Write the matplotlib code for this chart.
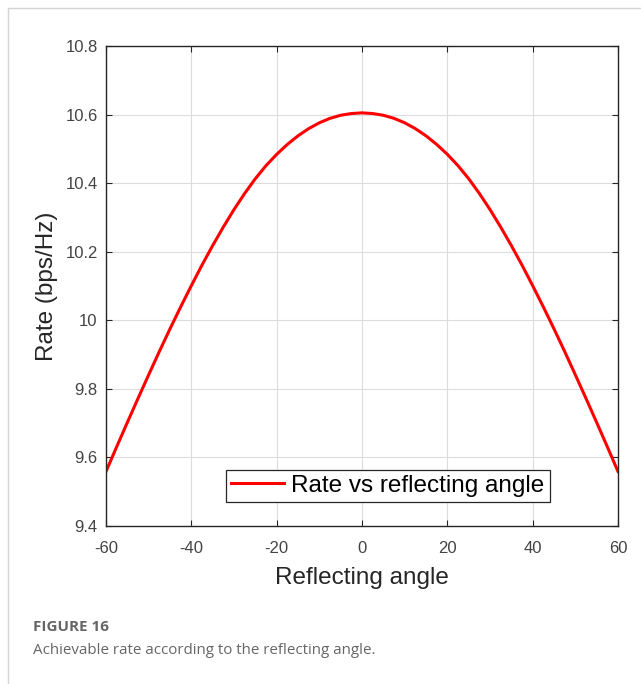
import matplotlib
matplotlib.use("Agg")
import matplotlib.pyplot as plt
from matplotlib.lines import Line2D

# reflecting angle (deg) and achievable rate (bps/Hz), read every 2.5 deg
angle = [-60, -57.5, -55, -52.5, -50, -47.5, -45, -42.5, -40, -37.5, -35,
         -32.5, -30, -27.5, -25, -22.5, -20, -17.5, -15, -12.5, -10, -7.5,
         -5, -2.5, 0, 2.5, 5, 7.5, 10, 12.5, 15, 17.5, 20, 22.5, 25, 27.5,
         30, 32.5, 35, 37.5, 40, 42.5, 45, 47.5, 50, 52.5, 55, 57.5, 60]
rate = [9.559, 9.631, 9.702, 9.772, 9.841, 9.909, 9.975, 10.039, 10.101,
        10.161, 10.218, 10.272, 10.323, 10.370, 10.413, 10.451, 10.484,
        10.513, 10.538, 10.559, 10.576, 10.589, 10.598, 10.603, 10.605,
        10.603, 10.598, 10.589, 10.576, 10.559, 10.538, 10.513, 10.484,
        10.451, 10.413, 10.370, 10.323, 10.272, 10.218, 10.161, 10.101,
        10.039, 9.975, 9.909, 9.841, 9.772, 9.702, 9.631, 9.559]

xticks = [-60, -40, -20, 0, 20, 40, 60]
yticks = [9.4, 9.6, 9.8, 10, 10.2, 10.4, 10.6, 10.8]
yticklabels = ["9.4", "9.6", "9.8", "10", "10.2", "10.4", "10.6", "10.8"]

plt.rcParams['font.family'] = ['Liberation Sans', 'DejaVu Sans']

fig = plt.figure(figsize=(6.41, 6.84), dpi=100)
ax = fig.add_axes([106 / 641, 1 - 526 / 684, 512 / 641, 480 / 684])

ax.plot(angle, rate, color='#ff0000', linewidth=2.2, label='Rate vs reflecting angle')

ax.set_xlim(-60, 60)
ax.set_ylim(9.4, 10.8)
ax.set_xticks(xticks)
ax.set_xticklabels([str(t) for t in xticks])
ax.set_yticks(yticks)
ax.set_yticklabels(yticklabels)
ax.grid(True, color='#dcdcdc', linewidth=0.8)
ax.set_axisbelow(True)
ax.tick_params(direction='in', length=4, width=0.8, colors='#262626',
               labelcolor='#444444', labelsize=12, top=True, right=True, pad=6)
ax.tick_params(axis='x', pad=11)
for s in ax.spines.values():
    s.set_color('#262626')
    s.set_linewidth(1.0)

ax.set_xlabel('Reflecting angle', fontsize=17.5, color='#262626', labelpad=8)
ax.set_ylabel('Rate (bps/Hz)', fontsize=17.5, color='#262626', labelpad=5)

leg = ax.legend(loc='lower left', bbox_to_anchor=(0.234, 0.051), borderaxespad=0,
                fancybox=False, framealpha=1, edgecolor='#262626', fontsize=17.5,
                handlelength=2.2, handletextpad=0.3, borderpad=0.2)
leg.get_frame().set_linewidth(0.9)

# page frame lines
fig.add_artist(Line2D([7.5 / 641, 1], [1 - 7.5 / 684, 1 - 7.5 / 684],
                      transform=fig.transFigure, color='#d4d4d4', linewidth=1))
fig.add_artist(Line2D([7.5 / 641, 7.5 / 641], [0, 1 - 7.5 / 684],
                      transform=fig.transFigure, color='#d4d4d4', linewidth=1))

fig.text(33 / 641, 1 - 627 / 684, 'FIGURE 16', fontsize=11, fontweight='bold',
         color='#666666', va='center', ha='left', family=['Open Sans', 'DejaVu Sans'])
fig.text(33 / 641, 1 - 651 / 684, 'Achievable rate according to the reflecting angle.',
         fontsize=10.9, color='#666666', va='center', ha='left',
         family=['Open Sans', 'DejaVu Sans'])

fig.savefig('out.png', dpi=100, facecolor='white')
